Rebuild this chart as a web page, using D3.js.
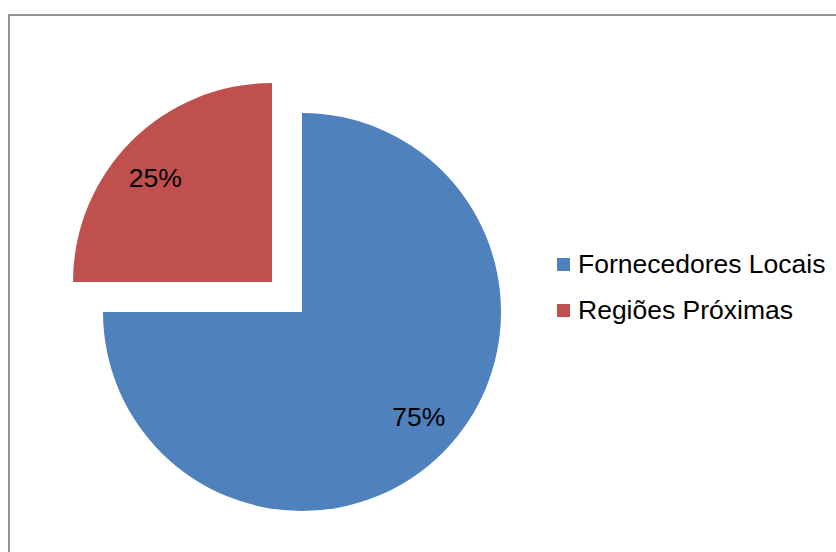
<!DOCTYPE html>
<html>
<head>
<meta charset="utf-8">
<script src="https://cdn.jsdelivr.net/npm/d3@7"></script>
<style>
  html, body { margin: 0; padding: 0; background: #fff; }
  svg { display: block; }
</style>
</head>
<body>
<script>
// Share of supply by origin
const categories = ["Fornecedores Locais", "Regiões Próximas"];
const values = [75, 25];
const labels = ["75%", "25%"];
const colors = ["#4F81BD", "#C0504D"];
const exploded = [false, true];

const W = 836, H = 552;
const cx = 302, cy = 312, R = 199;
const explodeDist = 42.4;
// labels sit on a slightly flattened ring inside the pie
const labelRx = 165, labelRy = 148;
const font = "'Liberation Sans', Arial, sans-serif";

const svg = d3.select("body").append("svg")
  .attr("width", W).attr("height", H);

// chart area frame (runs off the right and bottom edges)
svg.append("rect")
  .attr("x", 9).attr("y", 15)
  .attr("width", W + 20).attr("height", H + 20)
  .attr("fill", "none")
  .attr("stroke", "#868686")
  .attr("stroke-width", 1.75);

const data = categories.map((c, i) => ({ name: c, value: values[i], label: labels[i], color: colors[i], exploded: exploded[i] }));

const pie = d3.pie().value(d => d.value).sort(null).startAngle(0).endAngle(2 * Math.PI);
const arc = d3.arc().innerRadius(0).outerRadius(R);
const midAngle = d => (d.startAngle + d.endAngle) / 2;

const g = svg.append("g").attr("transform", `translate(${cx},${cy})`);

const slices = g.selectAll("g.slice").data(pie(data)).join("g")
  .attr("class", "slice")
  .attr("transform", d => {
    if (!d.data.exploded) return null;
    const mid = midAngle(d);
    return `translate(${Math.sin(mid) * explodeDist},${-Math.cos(mid) * explodeDist})`;
  });

slices.append("path")
  .attr("d", arc)
  .attr("fill", d => d.data.color);

slices.append("text")
  .attr("transform", d => {
    const mid = midAngle(d);
    return `translate(${Math.sin(mid) * labelRx},${-Math.cos(mid) * labelRy})`;
  })
  .attr("text-anchor", "middle")
  .attr("dy", "0.36em")
  .attr("font-family", font)
  .attr("font-size", 26.5)
  .attr("fill", "#000")
  .text(d => d.data.label);

// legend
const legend = svg.append("g").attr("transform", "translate(557,0)");
const rows = legend.selectAll("g").data(data).join("g")
  .attr("transform", (d, i) => `translate(0,${258 + i * 46})`);
rows.append("rect")
  .attr("width", 13).attr("height", 13)
  .attr("fill", d => d.color);
rows.append("text")
  .attr("x", 21).attr("y", 15)
  .attr("font-family", font)
  .attr("font-size", 26.5)
  .attr("fill", "#000")
  .text(d => d.name);
</script>
</body>
</html>
